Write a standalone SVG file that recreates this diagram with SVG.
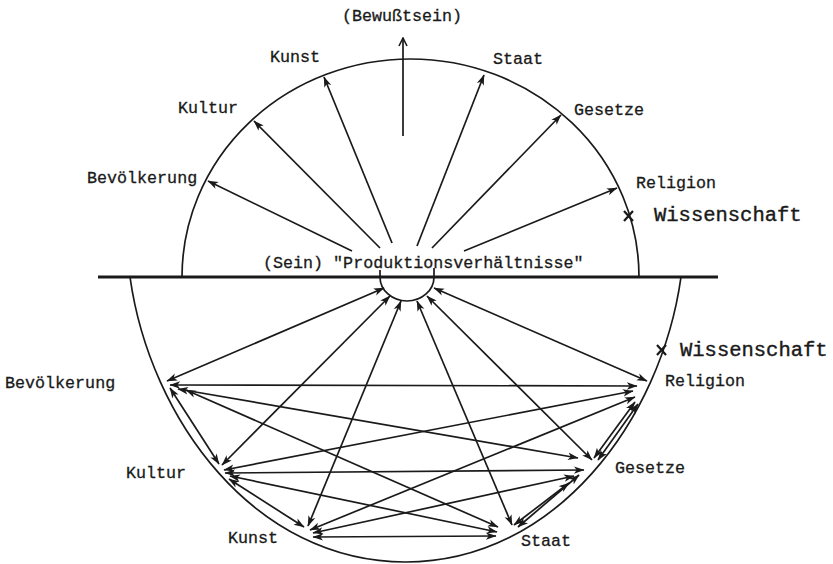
<svg xmlns="http://www.w3.org/2000/svg" width="833" height="564" viewBox="0 0 833 564">
<style>
  .lbl{font-family:"Liberation Mono","DejaVu Sans Mono",monospace;font-size:16.7px;fill:#1a1a1a;stroke:#1a1a1a;stroke-width:0.3}
  .big{font-family:"Liberation Mono","DejaVu Sans Mono",monospace;font-size:20.5px;fill:#1a1a1a;stroke:#1a1a1a;stroke-width:0.4}
  .fr{fill:none;stroke:#1a1a1a;stroke-width:1.7}
  .c line{stroke:#1a1a1a;stroke-width:1.7;fill:none}
  .one{marker-end:url(#ah)}
  .bi{marker-start:url(#ah);marker-end:url(#ah)}
  .up{marker-end:url(#open)}
  .x{stroke:#1a1a1a;stroke-width:2.2}
</style>
<defs>
  <marker id="ah" viewBox="0 0 10 8" refX="9.5" refY="4" markerWidth="11" markerHeight="8.5" markerUnits="userSpaceOnUse" orient="auto-start-reverse">
    <path d="M0,0.5 L10,4 L0,7.5 L2.6,4 Z" fill="#1a1a1a"/>
  </marker>
  <marker id="open" viewBox="0 0 10 10" refX="9" refY="5" markerWidth="10" markerHeight="10" markerUnits="userSpaceOnUse" orient="auto">
    <path d="M1,1 L9,5 L1,9" fill="none" stroke="#1a1a1a" stroke-width="1.6"/>
  </marker>
</defs>
<rect width="833" height="564" fill="#fff"/>

<g id="frame">
  <path class="fr" d="M182,277 A228.5,218 0 0 1 639,277"/>
  <line x1="98" y1="277" x2="718" y2="277" stroke="#1a1a1a" stroke-width="2.8"/>
  <path class="fr" d="M130,277 C150,420 255,562 405.5,562 C556,562 661,420 681,277"/>
  <path class="fr" d="M380,270 L380,277 A27,24 0 0 0 434,277 L434,268"/>
</g>

<g id="connectors" class="c">
  <line class="one" x1="352" y1="251" x2="208" y2="181"/>
  <line class="one" x1="380" y1="248" x2="254" y2="121"/>
  <line class="one" x1="392" y1="243" x2="324" y2="77"/>
  <line class="up" x1="403" y1="136" x2="403" y2="38"/>
  <line class="one" x1="417" y1="246" x2="484" y2="75"/>
  <line class="one" x1="432" y1="248" x2="561" y2="115"/>
  <line class="one" x1="464" y1="251" x2="617" y2="188"/>

  <line class="bi" x1="384" y1="288" x2="167" y2="381"/>
  <line class="bi" x1="390" y1="296" x2="222" y2="465"/>
  <line class="bi" x1="401" y1="301" x2="308" y2="526"/>
  <line class="bi" x1="417" y1="301" x2="512" y2="525"/>
  <line class="bi" x1="427" y1="296" x2="592" y2="460"/>
  <line class="bi" x1="434" y1="288" x2="647" y2="381"/>

  <line class="bi" x1="170" y1="385" x2="637" y2="386"/>
  <line class="bi" x1="178" y1="389" x2="578" y2="458"/>
  <line class="bi" x1="186" y1="390" x2="498" y2="527"/>
  <line class="bi" x1="170" y1="388" x2="219" y2="464"/>
  <line class="bi" x1="224" y1="470" x2="633" y2="391"/>
  <line class="bi" x1="225" y1="473" x2="584" y2="470"/>
  <line class="bi" x1="230" y1="476" x2="497" y2="532"/>
  <line class="bi" x1="229" y1="479" x2="304" y2="527"/>
  <line class="bi" x1="313" y1="537" x2="496" y2="536"/>
  <line class="bi" x1="313" y1="533" x2="574" y2="476"/>
  <line class="bi" x1="310" y1="530" x2="635" y2="397"/>
  <line class="bi" x1="514" y1="525" x2="569" y2="483"/>
  <line class="bi" x1="518" y1="527" x2="579" y2="475"/>
  <line class="bi" x1="594" y1="458" x2="635" y2="402"/>
  <line class="bi" x1="598" y1="460" x2="638" y2="404"/>
</g>

<g id="n-bewusstsein"><text class="lbl" x="402" y="21" text-anchor="middle" font-size="16">(Bewußtsein)</text></g>
<g id="n-produktion"><text class="lbl" x="263" y="268">(Sein) "Produktionsverhältnisse"</text></g>
<g id="n-kunst-top"><text class="lbl" x="270" y="62">Kunst</text></g>
<g id="n-staat-top"><text class="lbl" x="493" y="64">Staat</text></g>
<g id="n-kultur-top"><text class="lbl" x="178" y="113">Kultur</text></g>
<g id="n-gesetze-top"><text class="lbl" x="574" y="115">Gesetze</text></g>
<g id="n-bevoelkerung-top"><text class="lbl" x="87" y="183">Bevölkerung</text></g>
<g id="n-religion-top"><text class="lbl" x="636" y="188">Religion</text></g>
<g id="n-wissenschaft-top">
  <path class="x" d="M624,211 L633,221 M633,211 L624,221"/>
  <text class="big" x="654" y="221">Wissenschaft</text>
</g>

<g id="n-bevoelkerung"><text class="lbl" x="5" y="388">Bevölkerung</text></g>
<g id="n-wissenschaft">
  <path class="x" d="M657,345 L666,355 M666,345 L657,355"/>
  <text class="big" x="680" y="356">Wissenschaft</text>
</g>
<g id="n-religion"><text class="lbl" x="665" y="386">Religion</text></g>
<g id="n-kultur"><text class="lbl" x="126" y="478">Kultur</text></g>
<g id="n-gesetze"><text class="lbl" x="615" y="473">Gesetze</text></g>
<g id="n-kunst"><text class="lbl" x="228" y="543">Kunst</text></g>
<g id="n-staat"><text class="lbl" x="521" y="546">Staat</text></g>
</svg>
